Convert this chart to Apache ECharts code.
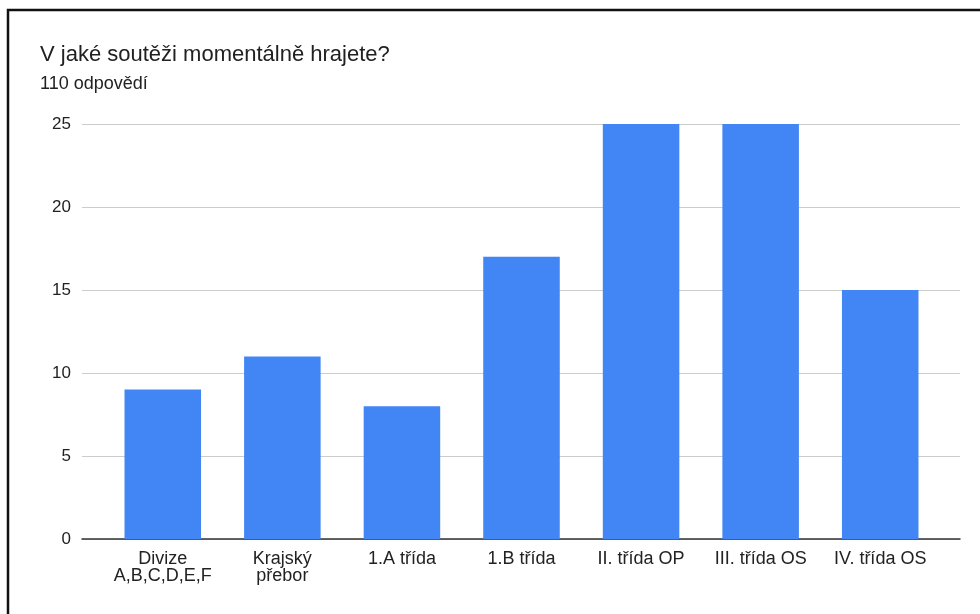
<!DOCTYPE html>
<html>
<head>
<meta charset="utf-8">
<script src="https://cdn.jsdelivr.net/npm/echarts@6/dist/echarts.min.js"></script>
<style>
html,body{margin:0;padding:0;background:#fff;}
#chart{width:980px;height:614px;}
</style>
</head>
<body>
<div id="chart"></div>
<script>
// data
var categories = ['Divize\nA,B,C,D,E,F', 'Krajský\npřebor', '1.A třída', '1.B třída', 'II. třída OP', 'III. třída OS', 'IV. třída OS'];
var counts = [9, 11, 8, 17, 25, 25, 15];
var titleText = 'V jaké soutěži momentálně hrajete?';
var subText = '110 odpovědí';

var font = '"Liberation Sans", Arial, sans-serif';
var chart = echarts.init(document.getElementById('chart'));

var options = {
	backgroundColor: '#fff',
	animation: false,
	title: {
		text: titleText,
		subtext: subText,
		left: 35,
		top: 39,
		itemGap: 9,
		textStyle: {fontFamily: font, fontSize: 22, fontWeight: 'normal', color: '#212121'},
		subtextStyle: {fontFamily: font, fontSize: 18, color: '#212121'}
	},
	//frame of the screenshot
	graphic: [{
		type: 'rect',
		shape: {x: 8, y: 10, width: 1000, height: 700},
		style: {fill: 'none', stroke: '#111', lineWidth: 2.5},
		silent: true
	}],
	grid: [
		{left: 103, right: 40, top: 124, bottom: 75}, //bars
		{left: 82, right: 20, top: 124, bottom: 75}   //gridlines + baseline
	],
	xAxis: [{
		type: 'category',
		gridIndex: 0,
		data: categories,
		axisLine: {show: false},
		axisTick: {show: false},
		axisLabel: {interval: 0, margin: 12, fontFamily: font, fontSize: 18, lineHeight: 17, color: '#222'}
	}, {
		type: 'category',
		gridIndex: 1,
		data: [''],
		axisLine: {lineStyle: {color: '#333', width: 1.5}},
		axisTick: {show: false},
		axisLabel: {show: false}
	}],
	yAxis: [{
		type: 'value',
		gridIndex: 0,
		min: 0,
		max: 25,
		interval: 5,
		show: false
	}, {
		type: 'value',
		gridIndex: 1,
		min: 0,
		max: 25,
		interval: 5,
		axisLine: {show: false},
		axisTick: {show: false},
		axisLabel: {margin: 11, fontFamily: font, fontSize: 17, color: '#222'},
		splitLine: {lineStyle: {color: '#ccc', width: 1}}
	}],
	series: [{
		type: 'bar',
		xAxisIndex: 0,
		yAxisIndex: 0,
		data: counts,
		barWidth: '64%',
		itemStyle: {color: '#4285f4'},
		z: 3
	}]
};
chart.setOption(options);
</script>
</body>
</html>
